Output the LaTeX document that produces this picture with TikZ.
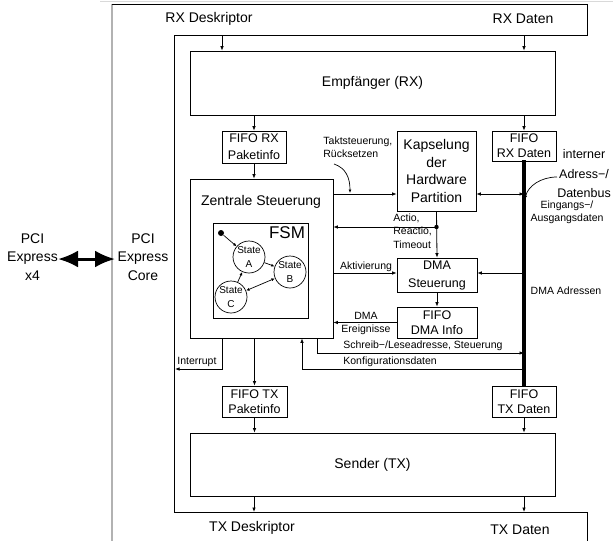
\documentclass[tikz,border=0pt]{standalone}
\usepackage{fontspec}
\setmainfont{Liberation Sans}
\usetikzlibrary{arrows.meta,calc}
\begin{document}
\begin{tikzpicture}[x=1pt,y=-1pt,line width=0.8pt,
  box/.style={draw,line width=0.8pt,inner sep=0pt,align=center},
  lbl/.style={inner sep=0pt,align=center},
  big/.style={font=\fontsize{14}{17.7}\selectfont},
  med/.style={font=\fontsize{12.5}{17}\selectfont},
  sml/.style={font=\fontsize{10.5}{13.3}\selectfont},
  arr/.style={-{Latex[length=4.5pt,width=3.6pt]}},
  arrtwo/.style={{Latex[length=4.5pt,width=3.6pt]}-{Latex[length=4.5pt,width=3.6pt]}},
  sarr/.style={line width=0.7pt,-{Latex[length=3.5pt,width=3pt]}},
  sarrtwo/.style={line width=0.7pt,{Latex[length=3.5pt,width=3pt]}-{Latex[length=3.5pt,width=3pt]}},
  st/.style={draw,circle,line width=0.7pt,minimum size=32pt,inner sep=0pt,align=center,font=\fontsize{10}{13.5}\selectfont}]
\useasboundingbox (0,0) rectangle (613,541);

% frame lines
\draw[gray!30,line width=0.8pt] (100,1) -- (613,1);
\draw[gray!60,line width=1.3pt] (112,4) -- (112,541);
\draw[line width=0.9pt] (112,4) -- (587,4) -- (587,35) -- (174,35) -- (174,512) -- (587,512) -- (587,541);

% top / bottom labels
\node[lbl,big] (rxdesk) at (209,19) {RX Deskriptor};
\node[lbl,big] (rxdat) at (523,19) {RX Daten};
\node[lbl,big] (txdesk) at (252,528) {TX Deskriptor};
\node[lbl,big] (txdat) at (520,530) {TX Daten};

% PCI
\node[lbl,font=\fontsize{14}{18.5}\selectfont] (pcix) at (32.5,257) {PCI\\Express\\x4};
\node[lbl,font=\fontsize{14}{18.5}\selectfont] (pcicore) at (143,257) {PCI\\Express\\Core};
\draw[line width=3pt,{Latex[length=20pt,width=17pt]}-{Latex[length=20pt,width=17pt]}] (58,259) -- (115,259);

% boxes
\node[box,big,minimum width=365pt,minimum height=64pt] (rx) at (372.5,83) {Empfänger (RX)};
\node[box,med,minimum width=64pt,minimum height=32pt] (fiforxp) at (254,147) {FIFO RX\\Paketinfo};
\node[box,font=\fontsize{12.5}{15}\selectfont,minimum width=64pt,minimum height=30pt] (fiforxd) at (524,146) {FIFO\\RX Daten};
\node[box,big,minimum width=79pt,minimum height=80pt] (kap) at (436.5,171) {Kapselung\\der\\Hardware\\Partition};
\node[box,minimum width=143pt,minimum height=159pt] (zs) at (261.5,258.5) {};
\node[lbl,big] (zstext) at (261,202) {Zentrale Steuerung};
\node[box,minimum width=95pt,minimum height=95pt] (fsm) at (260.5,270.5) {};
\node[lbl,font=\fontsize{17}{20}\selectfont] (fsmtext) at (287,233) {FSM};
\node[box,font=\fontsize{12.5}{18}\selectfont,minimum width=80pt,minimum height=34pt] (dmas) at (437,275) {DMA\\Steuerung};
\node[box,font=\fontsize{12.5}{15}\selectfont,minimum width=80pt,minimum height=31pt] (dmai) at (437,322.5) {FIFO\\DMA Info};
\node[box,font=\fontsize{12.5}{15}\selectfont,minimum width=65pt,minimum height=31pt] (fifotxp) at (254.5,401.5) {FIFO TX\\Paketinfo};
\node[box,font=\fontsize{12.5}{15}\selectfont,minimum width=64pt,minimum height=31pt] (fifotxd) at (524,401.5) {FIFO\\TX Daten};
\node[box,big,minimum width=365pt,minimum height=63pt] (tx) at (372.5,464.5) {Sender (TX)};

% FSM contents
\node[fill,circle,inner sep=0pt,minimum size=6pt] (init) at (221,233) {};
\node[st] (sa) at (249,257) {State\\A};
\node[st] (sb) at (290,272) {State\\B};
\node[st] (sc) at (231,297) {State\\C};
\draw[sarr] (init) -- (sa);
\draw[sarr] (sa) -- (sb);
\draw[sarr] (sc) -- (sa);
\draw[sarrtwo] (sc) -- (sb);

% coordinates
\coordinate (rxdin) at (222,35);
\coordinate (rxdain) at (524,35);
\coordinate (txdout) at (254,512);
\coordinate (txdaout) at (524,512);
\coordinate (bustop) at (524,160);
\coordinate (busbot) at (524,386);
\coordinate (intr) at (175,369);

% bus
\draw[line width=3.6pt] (bustop) -- (busbot);

% vertical flows
\draw[arr] (rxdin) -- (rxdin |- rx.north);
\draw[arr] (rxdain) -- (rxdain |- rx.north);
\draw[arr] (rx.south -| fiforxp) -- (fiforxp.north);
\draw[arr] (rx.south -| fiforxd) -- (fiforxd.north);
\draw[arr] (fiforxp.south) -- (zs.north -| fiforxp.south);
\draw[arr] (zs.south -| fifotxp) -- (fifotxp.north);
\draw[arr] (fifotxp.south) -- (tx.north -| fifotxp.south);
\draw[arr] (fifotxd.south) -- (tx.north -| fifotxd.south);
\draw[arr] (tx.south -| txdout) -- (txdout);
\draw[arr] (tx.south -| txdaout) -- (txdaout);

% Zentrale <-> Kapselung
\draw[arr] (zs.east |- 0,194) -- (kap.west |- 0,194);
\node[lbl,sml,align=left,anchor=north west] (takt) at (323,136) {Taktsteuerung,\\Rücksetzen};
\coordinate (tk1) at (334,164);
\coordinate (tk2) at (350,193);
\draw[sarr] (tk1) .. controls (346,168) and (350,178) .. (tk2);

% Kapselung <-> bus
\draw[arrtwo] (kap.east |- 0,194) -- (bustop |- 0,194);
\node[lbl,font=\fontsize{12.5}{19.5}\selectfont] (ibus) at (584,174) {interner\\Adress−/\\Datenbus};
\coordinate (ib1) at (557,177);
\coordinate (ib2) at (525,199);
\draw[sarr] (ib1) .. controls (541,177) and (528,186) .. (ib2);
\node[lbl,sml] (eaus) at (567,212.5) {Eingangs−/\\Ausgangsdaten};

% Actio
\draw[arr] (kap.south) -- (dmas.north);
\fill (kap.south |- 0,227) circle (2.2pt);
\draw[arr] (kap.south |- 0,227) -- (zs.east |- 0,227);
\node[lbl,sml,align=left,anchor=north west] (actio) at (393,213.5) {Actio,\\Reactio,\\Timeout};

% Aktivierung
\draw[arr] (zs.east |- 0,273) -- (dmas.west |- 0,273);
\node[lbl,sml] (aktiv) at (366,266.5) {Aktivierung};
\draw[arr] (bustop |- 0,273) -- (dmas.east |- 0,273);
\node[lbl,sml] (dmaadr) at (566,291) {DMA Adressen};

% DMA
\draw[arr] (dmas.south) -- (dmai.north);
\draw[arr] (dmai.west) -- (zs.east |- dmai.west);
\node[lbl,sml] (dmaev) at (366,323.5) {DMA\\Ereignisse};

% Schreib / Konfig / Interrupt
\draw[arr] (zs.south -| 317,0) |- (bustop |- 0,353);
\node[lbl,sml,anchor=west] (schreib) at (343,345.5) {Schreib−/Leseadresse, Steuerung};
\draw[arr] (bustop |- 0,369) -| (zs.south -| 302,0);
\node[lbl,sml,anchor=west] (konfig) at (343,362) {Konfigurationsdaten};
\draw[arr] (zs.south -| 222,0) |- (intr);
\node[lbl,sml,anchor=west] (intrt) at (177,361.5) {Interrupt};
\end{tikzpicture}
\end{document}
